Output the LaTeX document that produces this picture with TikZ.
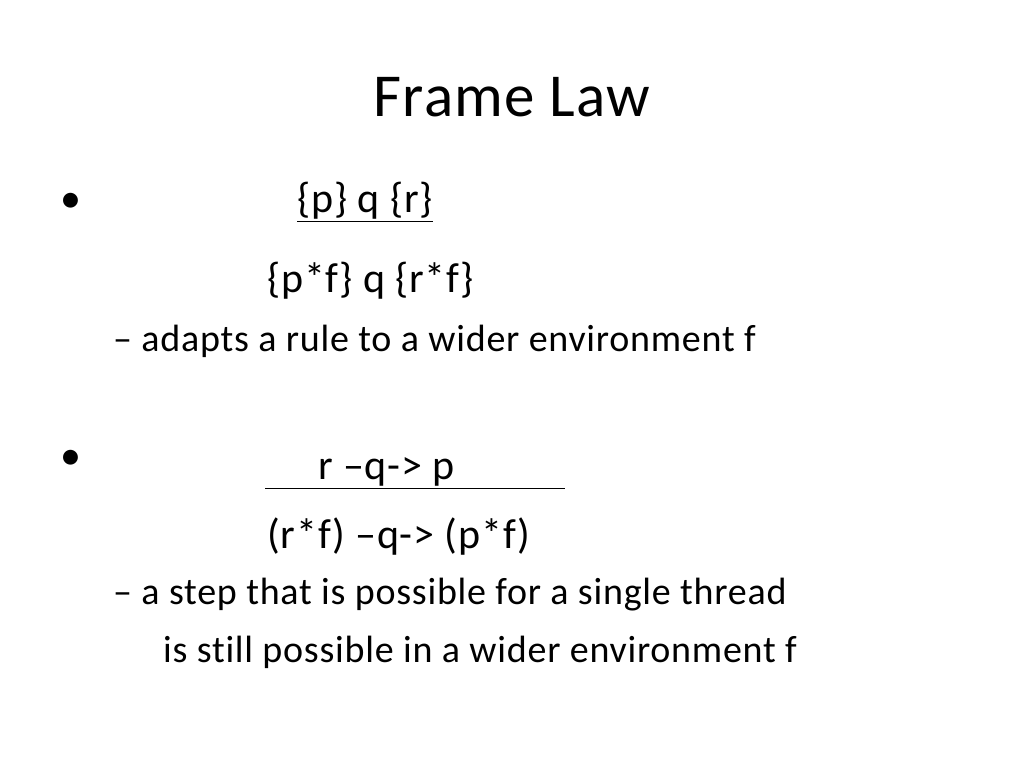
\documentclass[tikz,border=0pt]{standalone}
\usepackage{fontspec}
\setmainfont[Ligatures=NoCommon, LetterSpace=2]{Carlito}
\begin{document}
\begin{tikzpicture}[x=1pt, y=1pt,
        txt/.style={anchor=base west, inner sep=0pt, font=\fontsize{42}{48}\selectfont},
        sub/.style={anchor=base west, inner sep=0pt, font=\fontsize{38}{44}\selectfont}]
        \useasboundingbox (0,0) rectangle (1024,768);

        % Title
        \node[anchor=base, inner sep=0pt, font=\fontsize{61}{70}\selectfont] (title) at (512,651) {Frame Law};

        % First rule
        \node[txt] (dot1) at (60,555) {\textbullet};
        \node[txt] (prem1) at (297,555) {\underline{\{p\} q \{r\}}};
        \node[txt] (conc1) at (267,475) {\{p*f\} q \{r*f\}};
        \node[sub] (note1) at (113,416) {– adapts a rule to a wider environment f};

        % Second rule
        \node[txt] (dot2) at (60,298) {\textbullet};
        \node[txt] (prem2) at (265,288) {\underline{\hspace{53pt}r –q-> p\hspace{110pt}}};
        \node[txt] (conc2) at (267,219) {(r*f) –q-> (p*f)};
        \node[sub] (note2) at (113,163) {– a step that is possible for a single thread};
        \node[sub] (note3) at (163,106) {is still possible in a wider environment f};

    \end{tikzpicture}
\end{document}
